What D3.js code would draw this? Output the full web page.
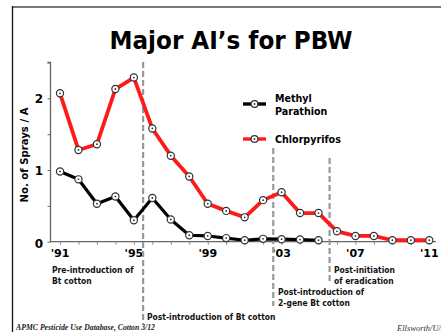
<!DOCTYPE html>
<html>
<head>
<meta charset="utf-8">
<script src="https://cdn.jsdelivr.net/npm/d3@7"></script>
<style>
  html, body { margin: 0; padding: 0; background: #fff; }
  svg { display: block; }
</style>
</head>
<body>
<script>
// Spray counts per acre for pink bollworm, Arizona cotton
const years = d3.range(1991, 2012);
const methylParathion = [0.98, 0.87, 0.53, 0.63, 0.30, 0.61, 0.31, 0.09, 0.08, 0.05, 0.02, 0.04, 0.035, 0.03, 0.02];
const chlorpyrifos = [2.07, 1.28, 1.36, 2.13, 2.29, 1.58, 1.20, 0.91, 0.53, 0.43, 0.34, 0.58, 0.69, 0.40, 0.40, 0.145, 0.08, 0.08, 0.02, 0.02, 0.02];
const yTicks = [0, 0.5, 1, 1.5, 2, 2.5];
const yTickLabels = {0: "0", 1: "1", 2: "2"};
const xTickLabels = {1991: "'91", 1995: "'95", 1999: "'99", 2003: "'03", 2007: "'07", 2011: "'11"};
// Program milestones (vertical dashed markers)
const milestones = [
  {year: 1995.5, top: 62, bottom: 324, lines: ["Post-introduction of Bt cotton"], tx: 147, ty: 320},
  {year: 2002.55, top: 148, bottom: 306, lines: ["Post-introduction of", "2-gene Bt cotton"], tx: 278, ty: 295},
  {year: 2005.6, top: 158, bottom: 284, lines: ["Post-initiation", "of eradication"], tx: 334, ty: 273}
];

const SANS = "'DejaVu Sans', Verdana, sans-serif";
const SERIF = "'Liberation Serif', 'DejaVu Serif', serif";
const W = 441, H = 332;
const svg = d3.select("body").append("svg").attr("width", W).attr("height", H)
  .style("font-family", SANS);

// squeeze wide glyphs to a narrower, Tahoma-like set width
function squeeze(sel, k) {
  sel.each(function () {
    const len = this.getComputedTextLength();
    d3.select(this).attr("textLength", len * k).attr("lengthAdjust", "spacingAndGlyphs");
  });
  return sel;
}

// frame
svg.append("line").attr("x1", 12).attr("x2", W).attr("y1", 7).attr("y2", 7)
  .attr("stroke", "#777").attr("stroke-width", 2);
svg.append("line").attr("x1", 12.5).attr("x2", 12.5).attr("y1", 6).attr("y2", H)
  .attr("stroke", "#111").attr("stroke-width", 1.3);

svg.append("text").attr("x", 231).attr("y", 49).attr("text-anchor", "middle")
  .attr("font-size", 24.5).attr("font-weight", "bold").attr("fill", "#000")
  .attr("textLength", 243).attr("lengthAdjust", "spacingAndGlyphs")
  .text("Major AI\u2019s for PBW");

const x = d3.scaleLinear().domain([1991, 2011]).range([60, 429.3]);
const y = d3.scaleLinear().domain([0, 2.5]).range([241.7, 62.5]);

// y axis
const yAxis = d3.axisLeft(y).tickValues(yTicks).tickSize(3).tickFormat(() => "");
const gy = svg.append("g").attr("transform", "translate(50.5,0)").call(yAxis);
gy.select(".domain").attr("stroke", "#666").attr("stroke-width", 1.3).attr("d", `M-3,${y(2.5)}H0V${y(0)}`);
gy.selectAll(".tick line").attr("stroke", "#666");
svg.selectAll(".ylab").data(Object.keys(yTickLabels)).join("text")
  .attr("x", 39).attr("y", d => y(+d) + (d === "0" ? 6 : 4.5))
  .attr("text-anchor", "middle").attr("font-size", 12).attr("font-weight", "bold")
  .text(d => yTickLabels[d]);
svg.append("text").attr("transform", "translate(28,155) rotate(-90)")
  .attr("text-anchor", "middle").attr("font-size", 11).attr("font-weight", "bold")
  .attr("textLength", 95).attr("lengthAdjust", "spacingAndGlyphs")
  .text("No. of Sprays / A");

// x axis
const xAxis = d3.axisBottom(x).tickValues(years).tickSize(3).tickFormat(() => "");
const gx = svg.append("g").attr("transform", `translate(0,${y(0)})`).call(xAxis);
gx.select(".domain").attr("stroke", "#666").attr("stroke-width", 1.3).attr("d", "M50,0H436");
gx.selectAll(".tick line").attr("stroke", "#888");
svg.selectAll(".xlab").data(Object.keys(xTickLabels)).join("text")
  .attr("x", d => x(+d)).attr("y", 257)
  .attr("text-anchor", "middle").attr("font-size", 11).attr("font-weight", "bold")
  .text(d => xTickLabels[d]);

// milestone dashed lines
svg.selectAll(".ms").data(milestones).join("line")
  .attr("x1", d => x(d.year)).attr("x2", d => x(d.year))
  .attr("y1", d => d.top).attr("y2", d => d.bottom)
  .attr("stroke", "#999").attr("stroke-width", 2.2).attr("stroke-dasharray", "6,3");

const annot = svg.append("g").attr("font-size", 9.5).attr("font-weight", "bold").attr("fill", "#111");
function addLines(tx, ty, lines) {
  lines.forEach((l, i) => squeeze(annot.append("text").attr("x", tx).attr("y", ty + i * 10.5).text(l), 0.8));
}
addLines(52, 273, ["Pre-introduction of", "Bt cotton"]);
milestones.forEach(m => addLines(m.tx, m.ty, m.lines));

// series
const line = d3.line().x((d, i) => x(years[i])).y(d => y(d));
function drawSeries(vals, color, width) {
  svg.append("path").datum(vals).attr("fill", "none").attr("stroke", color)
    .attr("stroke-width", width).attr("stroke-linejoin", "round").attr("d", line);
  const g = svg.append("g");
  g.selectAll("circle.m").data(vals).join("circle")
    .attr("cx", (d, i) => x(years[i])).attr("cy", d => y(d)).attr("r", 3.6)
    .attr("fill", "#fff").attr("stroke", "#333").attr("stroke-width", 1.2);
  g.selectAll("circle.c").data(vals).join("circle")
    .attr("cx", (d, i) => x(years[i])).attr("cy", d => y(d)).attr("r", 0.9)
    .attr("fill", "#333");
}
drawSeries(methylParathion, "#000", 3.2);
drawSeries(chlorpyrifos, "#ff1a1a", 3.8);

// legend
const legend = [
  {color: "#000", y: 104, lines: ["Methyl", "Parathion"], ty: 102},
  {color: "#ff1a1a", y: 139, lines: ["Chlorpyrifos"], ty: 142.5}
];
legend.forEach(l => {
  svg.append("line").attr("x1", 243).attr("x2", 266).attr("y1", l.y).attr("y2", l.y)
    .attr("stroke", l.color).attr("stroke-width", 3.4);
  svg.append("circle").attr("cx", 254.5).attr("cy", l.y).attr("r", 3.4)
    .attr("fill", "#fff").attr("stroke", "#333").attr("stroke-width", 1.2);
  svg.append("circle").attr("cx", 254.5).attr("cy", l.y).attr("r", 0.9).attr("fill", "#333");
  l.lines.forEach((t, i) => squeeze(svg.append("text").attr("x", 275).attr("y", l.ty + i * 12.5)
    .attr("font-size", 10.5).attr("font-weight", "bold").text(t), 0.91));
});

// footer
svg.append("text").attr("x", 16).attr("y", 329.5)
  .style("font-family", SERIF)
  .attr("font-style", "italic").attr("font-weight", "bold").attr("font-size", 8)
  .attr("textLength", 139).attr("lengthAdjust", "spacingAndGlyphs")
  .attr("fill", "#222").text("APMC Pesticide Use Database, Cotton 3/12");
svg.append("text").attr("x", 397).attr("y", 331)
  .style("font-family", SERIF)
  .attr("font-style", "italic").attr("font-size", 8.5)
  .attr("fill", "#333").text("Ellsworth/U/A");
</script>
</body>
</html>
